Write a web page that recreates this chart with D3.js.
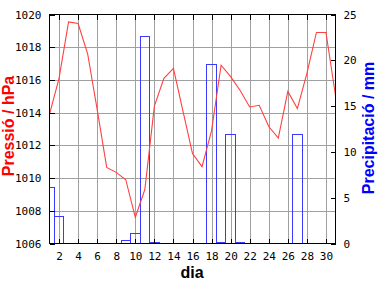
<!DOCTYPE html>
<html><head><meta charset="utf-8">
<script src="https://cdn.jsdelivr.net/npm/d3@7"></script>
<style>body{margin:0;background:#fff}svg{display:block}</style>
</head><body>
<svg id="c" width="384" height="288"></svg>
<script>
const days = d3.range(1, 32);
const pressure = [1013.9, 1016.1, 1019.55, 1019.45, 1017.6, 1014.2, 1010.65, 1010.35, 1009.9, 1007.6,
  1009.3, 1014.4, 1016.1, 1016.7, 1014.1, 1011.5, 1010.7, 1012.9, 1016.9, 1016.2,
  1015.35, 1014.35, 1014.45, 1013.15, 1012.45, 1015.3, 1014.25, 1016.4, 1018.9, 1018.9, 1015.05];
const precip = [6.2, 3.0, 0, 0, 0, 0, 0, 0, 0.4, 1.2,
  22.7, 0.2, 0, 0, 0, 0, 0, 19.6, 0.2, 11.9,
  0.2, 0, 0, 0, 0, 0, 12.0, 0, 0, 0, 0];
const xTicks = d3.range(2, 31, 2);
const yTicks = d3.range(1006, 1021, 2);
const y2Ticks = [0, 5, 10, 15, 20, 25];
const xTitle = "dia", yTitle = "Pressió / hPa", y2Title = "Precipitació / mm";

const L = 49.5, R = 335.5, T = 14.5, B = 243.5;
const svg = d3.select("#c");
const x = d3.scaleLinear().domain([1, 31]).range([L, R]);
const y = d3.scaleLinear().domain([1006, 1020]).range([B, T]);
const y2 = d3.scaleLinear().domain([0, 25]).range([B, T]);
const mono = "'DejaVu Sans Mono', monospace";
const sans = "'Liberation Sans', Arial, sans-serif";

svg.append("defs").append("clipPath").attr("id", "clip")
  .append("rect").attr("x", L).attr("y", T).attr("width", R - L).attr("height", B - T);

// grid
const grid = svg.append("g").attr("stroke", "#a0a0a0").attr("stroke-width", 1).attr("shape-rendering", "crispEdges");
grid.selectAll("line.gx").data(xTicks).join("line").attr("class", "gx")
  .attr("x1", d => Math.round(x(d)) + 0.5).attr("x2", d => Math.round(x(d)) + 0.5)
  .attr("y1", T).attr("y2", B);
grid.selectAll("line.gy").data(yTicks.slice(1, -1)).join("line").attr("class", "gy")
  .attr("x1", L).attr("x2", R)
  .attr("y1", d => Math.round(y(d)) + 0.5).attr("y2", d => Math.round(y(d)) + 0.5);

// bars (outlined, one day wide, centred on the day)
svg.append("g").attr("clip-path", "url(#clip)").attr("shape-rendering", "crispEdges")
  .selectAll("rect").data(days.filter((d, i) => precip[i] > 0)).join("rect")
  .attr("x", d => Math.floor(x(d - 0.5)) + 0.5)
  .attr("width", d => Math.floor(x(d + 0.5)) - Math.floor(x(d - 0.5)))
  .attr("y", d => Math.round(y2(precip[d - 1])) + 0.5)
  .attr("height", d => B - (Math.round(y2(precip[d - 1])) + 0.5))
  .attr("fill", "none").attr("stroke", "#3a3aff").attr("stroke-width", 1);

// pressure line
svg.append("path").datum(days)
  .attr("d", d3.line().x(d => x(d)).y(d => y(pressure[d - 1])))
  .attr("fill", "none").attr("stroke", "#ff4040").attr("stroke-width", 1.1);

// frame
svg.append("rect").attr("x", L).attr("y", T).attr("width", R - L).attr("height", B - T)
  .attr("fill", "none").attr("stroke", "#000").attr("stroke-width", 1).attr("shape-rendering", "crispEdges");

// axes (ticks inward)
const fmt = d3.format("d");
const ax = d3.axisBottom(x).tickValues(xTicks).tickFormat(fmt).tickSizeInner(-5).tickSizeOuter(0).tickPadding(9);
const gx = svg.append("g").attr("transform", `translate(0,${B})`).call(ax);
const axTop = d3.axisTop(x).tickValues(xTicks).tickSizeInner(-5).tickSizeOuter(0).tickFormat("");
const gxt = svg.append("g").attr("transform", `translate(0,${T})`).call(axTop);
const ay = d3.axisLeft(y).tickValues(yTicks).tickFormat(fmt).tickSizeInner(-5).tickSizeOuter(0).tickPadding(8);
const gy = svg.append("g").attr("transform", `translate(${L},0)`).call(ay);
const ay2 = d3.axisRight(y2).tickValues(y2Ticks).tickFormat(fmt).tickSizeInner(-5).tickSizeOuter(0).tickPadding(8);
const gy2 = svg.append("g").attr("transform", `translate(${R},0)`).call(ay2);
[gx, gxt, gy, gy2].forEach(g => {
  g.select(".domain").remove();
  g.selectAll("line").attr("stroke", "#000").attr("shape-rendering", "crispEdges");
  g.selectAll("text").attr("font-family", mono).attr("font-size", 11).attr("fill", "#000");
});

// titles
svg.append("text").attr("x", 192).attr("y", 278).attr("text-anchor", "middle")
  .attr("font-family", sans).attr("font-weight", "bold").attr("font-size", 16).text(xTitle);
svg.append("text").attr("transform", "translate(13.5,126) rotate(-90)").attr("text-anchor", "middle")
  .attr("font-family", sans).attr("font-weight", "bold").attr("font-size", 16).attr("fill", "#ff0000").text(yTitle);
svg.append("text").attr("transform", "translate(374,128) rotate(-90)").attr("text-anchor", "middle")
  .attr("font-family", sans).attr("font-weight", "bold").attr("font-size", 16).attr("fill", "#0000ff").text(y2Title);
</script>
</body></html>
